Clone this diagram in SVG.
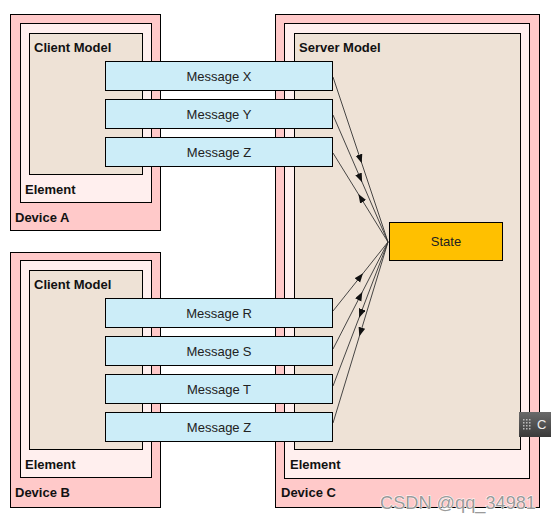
<svg xmlns="http://www.w3.org/2000/svg" width="551" height="523" viewBox="0 0 551 523">
  <defs>
    <style>
      .device { fill: #FFC9C9; stroke: #000; stroke-width: 1; }
      .element { fill: #FFEFEE; stroke: #000; stroke-width: 1; }
      .model { fill: #EEE2D6; stroke: #000; stroke-width: 1; }
      .msg { fill: #CCEDF8; stroke: #000; stroke-width: 1; }
      .state { fill: #FFC000; stroke: #000; stroke-width: 1; }
      .lbl { font-family: "Liberation Sans", Arial, sans-serif; font-size: 13px; font-weight: bold; fill: #111; }
      .txt { font-family: "Liberation Sans", Arial, sans-serif; font-size: 13px; fill: #222; text-anchor: middle; }
      .conn { fill: none; stroke: #333; stroke-width: 0.9; marker-mid: url(#arr); }
      .wm { font-family: "Liberation Sans", Arial, sans-serif; font-size: 18px; fill: #9a9a9a; stroke: #fff; stroke-width: 1; paint-order: stroke; }
    </style>
    <marker id="arr" markerUnits="userSpaceOnUse" markerWidth="10" markerHeight="8" refX="5" refY="3.5" orient="auto">
      <path d="M0,0 L9,3.5 L0,7 z" fill="#111"/>
    </marker>
    <linearGradient id="wg" x1="0" y1="0" x2="0" y2="1">
      <stop offset="0" stop-color="#6a6a6a"/>
      <stop offset="1" stop-color="#3a3a3a"/>
    </linearGradient>
  </defs>

  <g id="device-a">
    <rect class="device" x="10.5" y="14.5" width="150" height="216"/>
    <rect class="element" x="20.5" y="23.5" width="131" height="179"/>
    <rect class="model" x="29.5" y="33.5" width="113" height="141"/>
    <text class="lbl" x="34" y="52">Client Model</text>
    <text class="lbl" x="25" y="194">Element</text>
    <text class="lbl" x="15" y="222">Device A</text>
  </g>

  <g id="device-b">
    <rect class="device" x="10.5" y="252.5" width="150" height="255"/>
    <rect class="element" x="20.5" y="260.5" width="131" height="217"/>
    <rect class="model" x="29.5" y="270.5" width="113" height="179"/>
    <text class="lbl" x="34" y="289">Client Model</text>
    <text class="lbl" x="25" y="469">Element</text>
    <text class="lbl" x="15" y="497">Device B</text>
  </g>

  <g id="device-c">
    <rect class="device" x="275.5" y="14.5" width="264" height="493"/>
    <rect class="element" x="284.5" y="23.5" width="245" height="455"/>
    <rect class="model" x="294.5" y="33.5" width="226" height="416"/>
    <text class="lbl" x="299" y="52">Server Model</text>
    <text class="lbl" x="290" y="469">Element</text>
    <text class="lbl" x="281" y="497">Device C</text>
  </g>

  <g id="connectors">
    <polyline class="conn" points="333,77 360.5,159.5 388,242"/>
    <polyline class="conn" points="333,115 360.5,178.5 388,242"/>
    <polyline class="conn" points="388,242 360.5,197.5 333,153"/>
    <polyline class="conn" points="333,311 360.5,276.5 388,242"/>
    <polyline class="conn" points="333,349 360.5,295.5 388,242"/>
    <polyline class="conn" points="388,242 360.5,314 333,386"/>
    <polyline class="conn" points="388,242 360.5,332.5 333,423"/>
  </g>

  <g id="msg-x">
    <rect class="msg" x="105.5" y="61.5" width="227" height="29"/>
    <text class="txt" x="219" y="81">Message X</text>
  </g>
  <g id="msg-y">
    <rect class="msg" x="105.5" y="99.5" width="227" height="29"/>
    <text class="txt" x="219" y="119">Message Y</text>
  </g>
  <g id="msg-z1">
    <rect class="msg" x="105.5" y="137.5" width="227" height="29"/>
    <text class="txt" x="219" y="157">Message Z</text>
  </g>
  <g id="msg-r">
    <rect class="msg" x="105.5" y="298.5" width="227" height="29"/>
    <text class="txt" x="219" y="318">Message R</text>
  </g>
  <g id="msg-s">
    <rect class="msg" x="105.5" y="336.5" width="227" height="29"/>
    <text class="txt" x="219" y="356">Message S</text>
  </g>
  <g id="msg-t">
    <rect class="msg" x="105.5" y="374.5" width="227" height="29"/>
    <text class="txt" x="219" y="394">Message T</text>
  </g>
  <g id="msg-z2">
    <rect class="msg" x="105.5" y="412.5" width="227" height="29"/>
    <text class="txt" x="219" y="432">Message Z</text>
  </g>

  <g id="state">
    <rect class="state" x="389.5" y="222.5" width="113" height="38"/>
    <text class="txt" x="446" y="246">State</text>
  </g>

  <g id="widget">
    <rect x="519" y="412" width="32" height="25" fill="url(#wg)"/>
    <g fill="#bbb">
      <rect x="523" y="419" width="1.5" height="1.5"/><rect x="526" y="419" width="1.5" height="1.5"/><rect x="529" y="419" width="1.5" height="1.5"/>
      <rect x="523" y="422" width="1.5" height="1.5"/><rect x="526" y="422" width="1.5" height="1.5"/><rect x="529" y="422" width="1.5" height="1.5"/>
      <rect x="523" y="425" width="1.5" height="1.5"/><rect x="526" y="425" width="1.5" height="1.5"/><rect x="529" y="425" width="1.5" height="1.5"/>
      <rect x="523" y="428" width="1.5" height="1.5"/><rect x="526" y="428" width="1.5" height="1.5"/><rect x="529" y="428" width="1.5" height="1.5"/>
    </g>
    <text x="537" y="429" font-family="'Liberation Sans', Arial, sans-serif" font-size="13px" fill="#eee">C</text>
  </g>

  <text class="wm" x="380" y="509" textLength="156" lengthAdjust="spacingAndGlyphs">CSDN @qq_34981</text>
</svg>
